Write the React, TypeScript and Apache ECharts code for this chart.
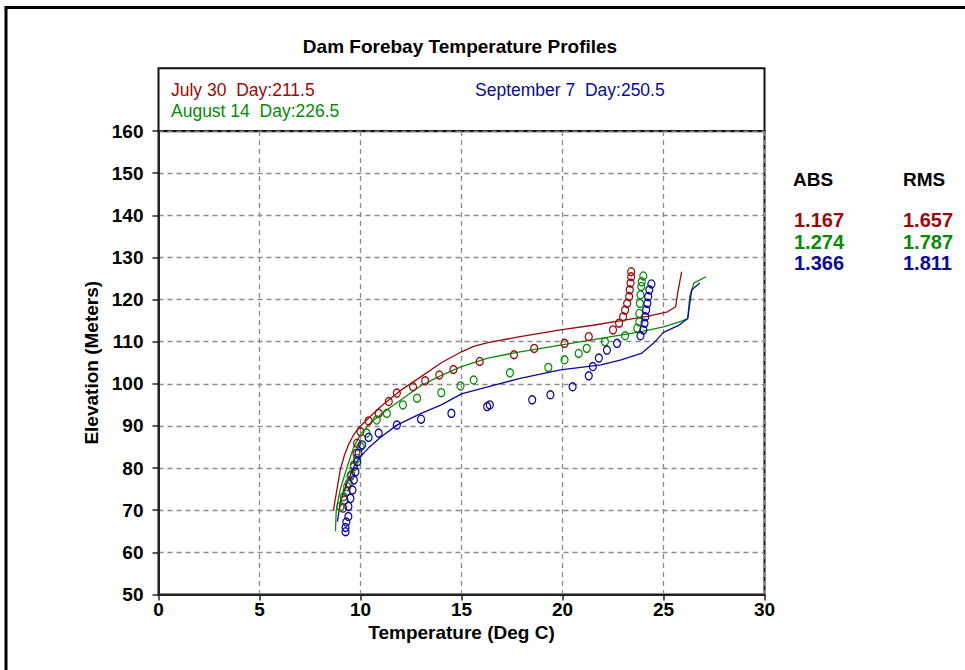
import React, { useEffect, useRef } from "react";
import * as echarts from "echarts";

const chartTitle = "Dam Forebay Temperature Profiles";
const xAxisName = "Temperature (Deg C)";
const yAxisName = "Elevation (Meters)";
const seriesNames = ["July 30  Day:211.5", "August 14  Day:226.5", "September 7  Day:250.5"];
const seriesColors = ["#9a0a0a", "#078a07", "#0a0a9a"];
const statHeaders = ["ABS", "RMS"];
const absValues = ["1.167", "1.274", "1.366"];
const rmsValues = ["1.657", "1.787", "1.811"];

// Model (lines): [temperature, elevation]
const julyModel = [
  [8.66, 70], [8.8, 74], [9.0, 79.6], [9.2, 83.0], [9.4, 85.5], [9.65, 87.8], [9.9, 89.5],
  [10.5, 92.3], [11.0, 94.6], [12.0, 98.5], [13.0, 101.7], [14.0, 105.0], [15.0, 107.6],
  [15.6, 108.9], [16.3, 109.8], [17.9, 111.2], [19.9, 112.8], [21.5, 113.9], [22.9, 115.0],
  [24.2, 116.0], [25.2, 117.1], [25.6, 118.3], [25.7, 121.5], [25.9, 126.6],
];
const augustModel = [
  [8.76, 65], [8.8, 70], [9.0, 75], [9.34, 80.3], [9.65, 84.8], [10.0, 88.0], [10.5, 90.8],
  [11.3, 93.8], [12.1, 96.5], [13.0, 99.6], [14.0, 102.0], [15.0, 104.1], [16.3, 106.1],
  [17.9, 107.6], [19.9, 109.2], [21.9, 110.8], [23.9, 112.4], [25.0, 113.5], [25.8, 114.7],
  [26.2, 115.5], [26.3, 120.7], [26.5, 123.9], [27.1, 125.4],
];
const septemberModel = [
  [8.86, 67.3], [9.0, 72], [9.3, 76], [9.67, 80.3], [9.9, 82.2], [10.4, 84.8], [11.0, 87.3],
  [11.8, 90.2], [13.0, 93.0], [14.0, 95.0], [15.0, 97.6], [16.3, 99.3], [17.9, 101.3],
  [19.9, 103.3], [21.9, 104.5], [22.9, 105.7], [23.9, 107.2], [24.5, 109.6], [25.0, 112.2],
  [25.8, 114.0], [26.2, 115.5], [26.3, 119.1], [26.4, 122.3], [26.7, 123.5], [26.8, 123.9],
];

// Observations (circles): [temperature, elevation]
const julyObs = [
  [9.14, 70.5], [9.21, 72.4], [9.31, 74.4], [9.42, 76.4], [9.54, 78.4], [9.67, 80.7], [9.8, 83.5],
  [9.83, 85.9], [10.0, 88.6], [10.4, 91.2], [10.9, 93.0], [11.4, 95.8], [11.8, 97.8], [12.6, 99.3],
  [13.2, 100.7], [13.9, 102.1], [14.6, 103.4], [15.9, 105.3], [17.6, 106.9], [18.6, 108.4],
  [20.1, 109.6], [21.3, 111.2], [22.5, 112.8], [22.8, 114.4], [23.0, 115.9], [23.1, 117.5],
  [23.2, 119.1], [23.3, 120.7], [23.33, 122.3], [23.37, 123.9], [23.4, 125.4], [23.4, 126.6],
];
const augustObs = [
  [9.0, 70.8], [9.17, 73.2], [9.34, 75.6], [9.5, 78.0], [9.67, 80.3], [9.83, 82.3], [10.0, 85.1],
  [10.3, 88.3], [10.8, 91.4], [11.3, 93.0], [12.1, 95.0], [12.8, 96.6], [14.0, 97.9], [14.95, 99.5],
  [15.6, 100.9], [17.4, 102.6], [19.3, 103.9], [20.1, 105.7], [20.8, 107.2], [21.2, 108.4],
  [22.1, 110.0], [23.1, 111.4], [23.7, 113.2], [23.8, 114.7], [23.8, 116.7], [23.83, 119.1],
  [23.86, 121.1], [23.9, 123.1], [23.92, 124.2], [24.0, 125.6],
];
const septemberObs = [
  [9.26, 64.9], [9.26, 65.9], [9.3, 67.2], [9.4, 68.5], [9.4, 70.9], [9.5, 72.8], [9.6, 74.8],
  [9.67, 77.2], [9.75, 79.1], [9.84, 81.5], [9.9, 83.5], [10.08, 85.5], [10.4, 87.3], [10.9, 88.3],
  [11.8, 90.2], [13.0, 91.6], [14.5, 93.0], [16.27, 94.6], [16.4, 95.0], [18.5, 96.2], [19.4, 97.4],
  [20.5, 99.3], [21.3, 101.9], [21.5, 104.1], [21.8, 106.1], [22.2, 108.0], [22.7, 109.6],
  [23.86, 111.4], [24.0, 112.8], [24.06, 114.4], [24.1, 115.9], [24.14, 117.5], [24.2, 119.1],
  [24.24, 120.7], [24.3, 122.3], [24.4, 123.7],
];

const models = [julyModel, augustModel, septemberModel];
const observations = [julyObs, augustObs, septemberObs];

const FONT = '"Liberation Sans", Arial, sans-serif';

export default function App() {
  const ref = useRef<HTMLDivElement>(null);
  useEffect(() => {
    if (!ref.current) return;
    const chart = echarts.init(ref.current, null, { renderer: "svg" });
    const boldText = { fontFamily: FONT, fontWeight: "bold", fontSize: 19, color: "#000" };

    const series: any[] = [];
    models.forEach((m, i) => {
      series.push({
        name: seriesNames[i] + " model",
        type: "line",
        data: m,
        showSymbol: false,
        symbol: "none",
        lineStyle: { color: seriesColors[i], width: 1.3 },
        z: 3,
      });
    });
    observations.forEach((o, i) => {
      series.push({
        name: seriesNames[i],
        type: "scatter",
        data: o,
        symbol: "circle",
        symbolSize: [7, 8],
        itemStyle: { color: "rgba(255,255,255,0)", borderColor: seriesColors[i], borderWidth: 1.3, opacity: 1 },
        z: 4,
      });
    });

    const graphic: any[] = [
      {
        type: "rect",
        shape: { x: 6, y: 7.5, width: 1100, height: 1100 },
        style: { fill: "none", stroke: "#000", lineWidth: 3 },
        silent: true,
      },
      {
        type: "rect",
        shape: { x: 158.5, y: 68.3, width: 606, height: 63 },
        style: { fill: "none", stroke: "#111", lineWidth: 2 },
        silent: true,
      },
      {
        type: "text",
        x: 460,
        y: 46,
        style: { text: chartTitle, font: `bold 19px ${FONT}`, fill: "#000", textAlign: "center", textVerticalAlign: "middle" },
      },
      {
        type: "text",
        x: 171,
        y: 90,
        style: { text: seriesNames[0], font: `17.5px ${FONT}`, fill: seriesColors[0], textAlign: "left", textVerticalAlign: "middle" },
      },
      {
        type: "text",
        x: 171,
        y: 110.5,
        style: { text: seriesNames[1], font: `17.5px ${FONT}`, fill: seriesColors[1], textAlign: "left", textVerticalAlign: "middle" },
      },
      {
        type: "text",
        x: 475,
        y: 90,
        style: { text: seriesNames[2], font: `17.5px ${FONT}`, fill: seriesColors[2], textAlign: "left", textVerticalAlign: "middle" },
      },
      {
        type: "text",
        x: 793,
        y: 179,
        style: { text: statHeaders[0], font: `bold 19px ${FONT}`, fill: "#000", textAlign: "left", textVerticalAlign: "middle" },
      },
      {
        type: "text",
        x: 903,
        y: 179,
        style: { text: statHeaders[1], font: `bold 19px ${FONT}`, fill: "#000", textAlign: "left", textVerticalAlign: "middle" },
      },
    ];
    const rowY = [220, 241.5, 262.5];
    absValues.forEach((v, i) => {
      graphic.push({
        type: "text",
        x: 794,
        y: rowY[i],
        style: { text: v, font: `bold 20px ${FONT}`, fill: seriesColors[i], textAlign: "left", textVerticalAlign: "middle" },
      });
      graphic.push({
        type: "text",
        x: 903,
        y: rowY[i],
        style: { text: rmsValues[i], font: `bold 20px ${FONT}`, fill: seriesColors[i], textAlign: "left", textVerticalAlign: "middle" },
      });
    });

    chart.setOption({
      animation: false,
      backgroundColor: "#fff",
      grid: {
        left: 158.5,
        top: 131,
        width: 606,
        height: 463.5,
        show: true,
        borderColor: "#111",
        borderWidth: 2,
        backgroundColor: "transparent",
      },
      xAxis: {
        type: "value",
        min: 0,
        max: 30,
        interval: 5,
        name: xAxisName,
        nameLocation: "middle",
        nameGap: 28,
        nameTextStyle: boldText,
        axisLine: { show: true, onZero: false, lineStyle: { color: "#222", width: 2 } },
        axisTick: { show: true, inside: false, length: 6, lineStyle: { color: "#222", width: 1.5 } },
        axisLabel: { margin: 5, ...boldText },
        splitLine: { show: true, lineStyle: { color: "#8a8a8a", type: [5, 4], width: 1.3 } },
      },
      yAxis: {
        type: "value",
        min: 50,
        max: 160,
        interval: 10,
        name: yAxisName,
        nameLocation: "middle",
        nameGap: 57,
        nameTextStyle: boldText,
        axisLine: { show: true, onZero: false, lineStyle: { color: "#222", width: 2 } },
        axisTick: { show: true, inside: false, length: 6, lineStyle: { color: "#222", width: 1.5 } },
        axisLabel: { margin: 15, ...boldText },
        splitLine: { show: true, lineStyle: { color: "#8a8a8a", type: [5, 4], width: 1.3 } },
      },
      series,
      graphic,
    });
    return () => chart.dispose();
  }, []);
  return (
    <div
      ref={ref}
      style={{ position: "fixed", left: 0, top: 0, width: 965, height: 670, background: "#fff" }}
    />
  );
}
